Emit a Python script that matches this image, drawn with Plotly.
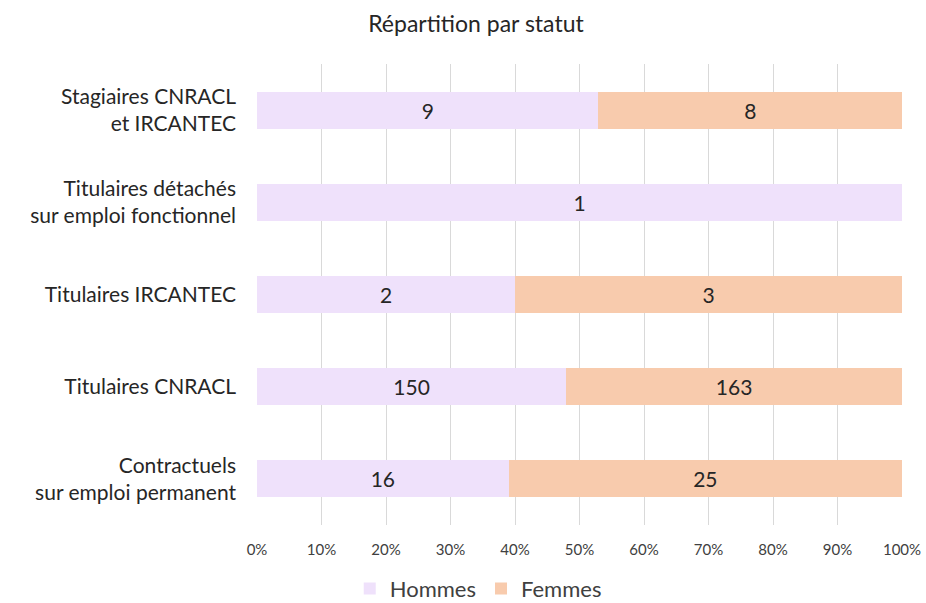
"""Répartition par statut - 100% stacked bar."""
from plotly import graph_objects as go

categories = [
    "Contractuels<br>sur emploi permanent",
    "Titulaires CNRACL",
    "Titulaires IRCANTEC",
    "Titulaires détachés<br>sur emploi fonctionnel",
    "Stagiaires CNRACL<br>et IRCANTEC",
]
hommes = [16, 150, 2, 1, 9]
femmes = [25, 163, 3, 0, 8]
tick_vals = [0, 10, 20, 30, 40, 50, 60, 70, 80, 90, 100]
tick_text = [f"{v}%" for v in tick_vals]

FONT = "Lato"
GREY = "#404040"
DARK = "#262626"

fig = go.Figure()
for name, values, color in [
    ("Hommes", hommes, "#EFE1FB"),
    ("Femmes", femmes, "#F8CBAD"),
]:
    fig.add_trace(
        go.Bar(
            y=categories,
            x=values,
            name=name,
            orientation="h",
            marker=dict(color=color, line=dict(width=0)),
            text=[str(v) if v else "" for v in values],
            textposition="inside",
            insidetextanchor="middle",
            textfont=dict(family=FONT, size=21, color=DARK),
            hoverinfo="skip",
        )
    )

fig.update_layout(
    barmode="stack",
    barnorm="percent",
    bargap=0.6,
    width=926,
    height=603,
    margin=dict(l=257, r=24, t=64, b=78, autoexpand=False),
    plot_bgcolor="white",
    paper_bgcolor="white",
    font=dict(family=FONT, color=GREY),
    title=dict(
        text="Répartition par statut",
        xref="container",
        x=0.514,
        xanchor="center",
        yref="container",
        y=0.96,
        yanchor="middle",
        font=dict(family=FONT, size=23, color=DARK),
    ),
    legend=dict(
        orientation="h",
        x=0.343,
        xanchor="center",
        y=-0.138,
        yanchor="middle",
        font=dict(family=FONT, size=22, color=GREY),
        traceorder="normal",
    ),
)
fig.update_xaxes(
    range=[0, 100],
    tickvals=tick_vals,
    ticktext=tick_text,
    showgrid=True,
    gridcolor="#D9D9D9",
    gridwidth=1,
    zeroline=False,
    tickfont=dict(family=FONT, size=15, color=GREY),
    ticks="",
    ticklabelstandoff=14,
)
fig.update_yaxes(
    showgrid=False,
    tickfont=dict(family=FONT, size=21, color=DARK),
    ticks="",
    ticklabelstandoff=20,
)

# drop the default page margin so the figure fills the window exactly
fig.write_html(
    "out.html",
    config={"displayModeBar": False},
    post_script="document.body.style.margin='0';document.body.style.overflow='hidden';",
)
